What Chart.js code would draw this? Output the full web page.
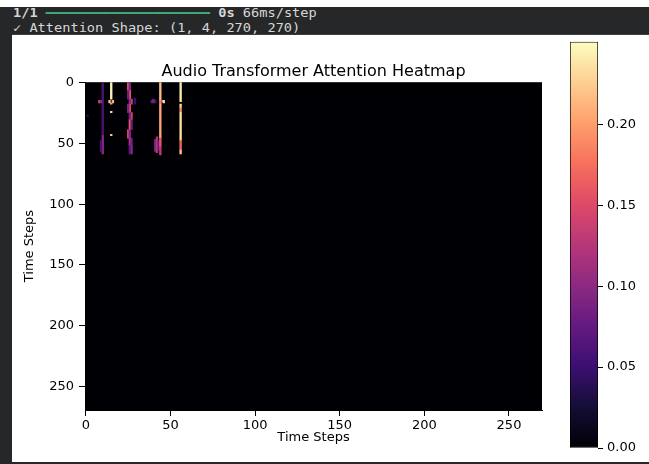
<!DOCTYPE html>
<html>
<head>
<meta charset="utf-8">
<script src="https://cdn.jsdelivr.net/npm/chart.js@4.4.0/dist/chart.umd.min.js"></script>
<style>
  html, body { margin: 0; padding: 0; background: #fff; }
  body { width: 649px; height: 464px; position: relative; overflow: hidden; }
  #band { position: absolute; left: 0; top: 7px; width: 649px; height: 27px; background: #262728; border-bottom: 1px solid #3d3e40; }
  #leftEdge { position: absolute; left: 0; top: 7px; width: 12px; height: 457px; background: #262728; }
  #bottomEdge { position: absolute; left: 0; top: 462px; width: 649px; height: 2px; background: #262728; }
  .term { position: absolute; left: 13px; font-family: 'DejaVu Sans Mono', monospace; font-size: 12px; line-height: 14px;
          color: #d6d6d6; white-space: pre; transform: scaleX(1.136); transform-origin: 0 0; }
  #l1 { top: 6px; }
  #l2 { top: 21px; }
  .prog { color: #3fa876; }
  canvas { position: absolute; }
  #heat { left: 12px; top: 35px; }
  #cbar { left: 555px; top: 30px; }
</style>
</head>
<body>
<div id="band"></div>
<div id="leftEdge"></div>
<div id="bottomEdge"></div>
<div class="term" id="l1"><b>1/1</b> <span class="prog">━━━━━━━━━━━━━━━━━━━━</span> <b>0s</b> 66ms/step</div>
<div class="term" id="l2">✓ Attention Shape: (1, 4, 270, 270)</div>
<canvas id="heat" width="548" height="427"></canvas>
<canvas id="cbar" width="94" height="432"></canvas>
<script>
const timeSteps = Array.from({ length: 270 }, (_, i) => i);
const xTicks = [0, 50, 100, 150, 200, 250];
const yTicks = [0, 50, 100, 150, 200, 250];
const colorTicks = [0, 0.05, 0.10, 0.15, 0.20];
const colorMax = 0.251;

// runs of non-zero attention: key column, first query row, last query row, weight
const runCols   = [1, 10, 10, 9, 8, 9, 15, 14, 16, 15, 15, 15,
                   25, 26, 26, 25, 27, 26, 26, 25, 27, 26, 26, 27, 25, 26, 26, 27, 27, 26,
                   29, 39, 40, 41, 41, 42, 43,
                   44, 44, 44, 44, 44, 45, 46,
                   56, 56, 56, 56, 56, 56];
const runStart  = [27, 0, 44, 48, 15, 15, 0, 15, 15, 17, 24, 43,
                   0, 0, 7, 7, 14, 14, 18, 18, 25, 25, 31, 31, 39, 39, 46, 46, 52, 52,
                   13, 15, 14, 15, 47, 45, 48,
                   0, 15, 18, 46, 53, 15, 15,
                   0, 18, 21, 25, 48, 56];
const runEnd    = [27, 43, 58, 56, 16, 16, 13, 16, 16, 17, 24, 43,
                   6, 6, 13, 13, 17, 17, 24, 24, 30, 30, 38, 38, 45, 45, 51, 51, 58, 58,
                   17, 16, 16, 16, 56, 57, 55,
                   14, 17, 45, 52, 59, 15, 16,
                   15, 20, 24, 47, 55, 58];
const runWeight = [0.04, 0.06, 0.10, 0.06, 0.15, 0.10, 0.245, 0.22, 0.21, 0.20, 0.23, 0.22,
                   0.15, 0.09, 0.16, 0.08, 0.14, 0.10, 0.15, 0.09, 0.14, 0.09, 0.16, 0.08, 0.14, 0.09, 0.12, 0.08, 0.10, 0.07,
                   0.05, 0.07, 0.09, 0.06, 0.09, 0.12, 0.08,
                   0.215, 0.19, 0.205, 0.16, 0.13, 0.15, 0.24,
                   0.24, 0.23, 0.19, 0.235, 0.17, 0.22];

const magmaStops = ['#000004', '#140e36', '#3b0f70', '#641a80', '#8c2981', '#b73779',
                    '#de4968', '#f7705c', '#fe9f6d', '#fecf92', '#fcfdbf'];

const hexToRgb = (h) => [1, 3, 5].map(k => parseInt(h.slice(k, k + 2), 16));

function magma(t) {
    const n = magmaStops.length - 1;
    const p = Math.min(1, Math.max(0, t)) * n;
    const i = Math.min(Math.floor(p), n - 1);
    const f = p - i;
    const a = hexToRgb(magmaStops[i]);
    const b = hexToRgb(magmaStops[i + 1]);
    const c = a.map((v, k) => Math.round(v + (b[k] - v) * f));
    return `rgb(${c[0]},${c[1]},${c[2]})`;
}

Chart.defaults.font.family = "'DejaVu Sans', sans-serif";
Chart.defaults.color = '#000';

// zero attention everywhere else: paint the image area with the bottom colour
const imageBackground = {
    id: 'imageBackground',
    beforeDraw(chart) {
        const { ctx, chartArea: a } = chart;
        ctx.save();
        ctx.fillStyle = magma(0);
        ctx.fillRect(a.left, a.top, a.width, a.height);
        ctx.restore();
    }
};

const cells = runCols.map((c, i) => ({ x: c, y: [runStart[i] - 0.5, runEnd[i] + 0.5] }));

new Chart(document.getElementById('heat'), {
    type: 'bar',
    data: {
        labels: timeSteps,
        datasets: [{
            data: cells,
            backgroundColor: runWeight.map(w => magma(w / colorMax)),
            borderWidth: 0,
            categoryPercentage: 1,
            barPercentage: 1,
            grouped: false
        }]
    },
    options: {
        responsive: false,
        animation: false,
        layout: { padding: { left: 0, right: 18, top: 0, bottom: 0 } },
        plugins: {
            legend: { display: false },
            tooltip: { enabled: false },
            title: {
                display: true,
                text: 'Audio Transformer Attention Heatmap',
                fullSize: false,
                font: { size: 16, weight: 'normal' },
                color: '#000',
                padding: { top: 27, bottom: 1 }
            }
        },
        scales: {
            x: {
                type: 'category',
                offset: true,
                afterFit: (s) => { s.height = 52; },
                grid: {
                    offset: false,
                    drawOnChartArea: false,
                    tickLength: 6,
                    color: (c) => (c.tick && xTicks.includes(c.tick.value) ? '#000' : 'rgba(0,0,0,0)')
                },
                border: { display: true, color: '#000' },
                ticks: {
                    autoSkip: false,
                    maxRotation: 0,
                    minRotation: 0,
                    padding: 2,
                    font: { size: 13 },
                    callback: (v) => (xTicks.includes(v) ? String(v) : '')
                },
                title: { display: true, text: 'Time Steps', font: { size: 13 }, padding: { top: 0, bottom: 17 } }
            },
            y: {
                min: -0.5,
                max: 269.5,
                reverse: true,
                afterBuildTicks: (s) => { s.ticks = yTicks.map(v => ({ value: v })); },
                afterFit: (s) => { s.width = 73; },
                grid: { drawOnChartArea: false, tickLength: 6, color: '#000' },
                border: { display: true, color: '#000' },
                ticks: { padding: 5, font: { size: 13 }, callback: (v) => String(v) },
                title: { display: true, text: 'Time Steps', font: { size: 13 }, padding: { top: 10, bottom: 0 } }
            }
        }
    },
    plugins: [imageBackground]
});

new Chart(document.getElementById('cbar'), {
    type: 'bar',
    data: {
        labels: ['attention'],
        datasets: [{
            data: [[0, colorMax]],
            backgroundColor: (c) => {
                const a = c.chart.chartArea;
                if (!a) return magma(0);
                const g = c.chart.ctx.createLinearGradient(0, a.bottom, 0, a.top);
                magmaStops.forEach((col, i) => g.addColorStop(i / (magmaStops.length - 1), col));
                return g;
            },
            borderColor: '#000',
            borderWidth: 1,
            borderSkipped: false,
            categoryPercentage: 1,
            barPercentage: 1
        }]
    },
    options: {
        responsive: false,
        animation: false,
        layout: { padding: { left: 15, right: 0, top: 2, bottom: 14 } },
        plugins: { legend: { display: false }, tooltip: { enabled: false } },
        scales: {
            x: { display: false },
            y: {
                position: 'right',
                min: 0,
                max: colorMax,
                afterBuildTicks: (s) => { s.ticks = colorTicks.map(v => ({ value: v })); },
                afterFit: (s) => { s.width = 51; },
                grid: { drawOnChartArea: false, tickLength: 5, color: '#000' },
                border: { display: false },
                ticks: { padding: 4, font: { size: 13 }, callback: (v) => v.toFixed(2) }
            }
        }
    }
});
</script>
</body>
</html>
